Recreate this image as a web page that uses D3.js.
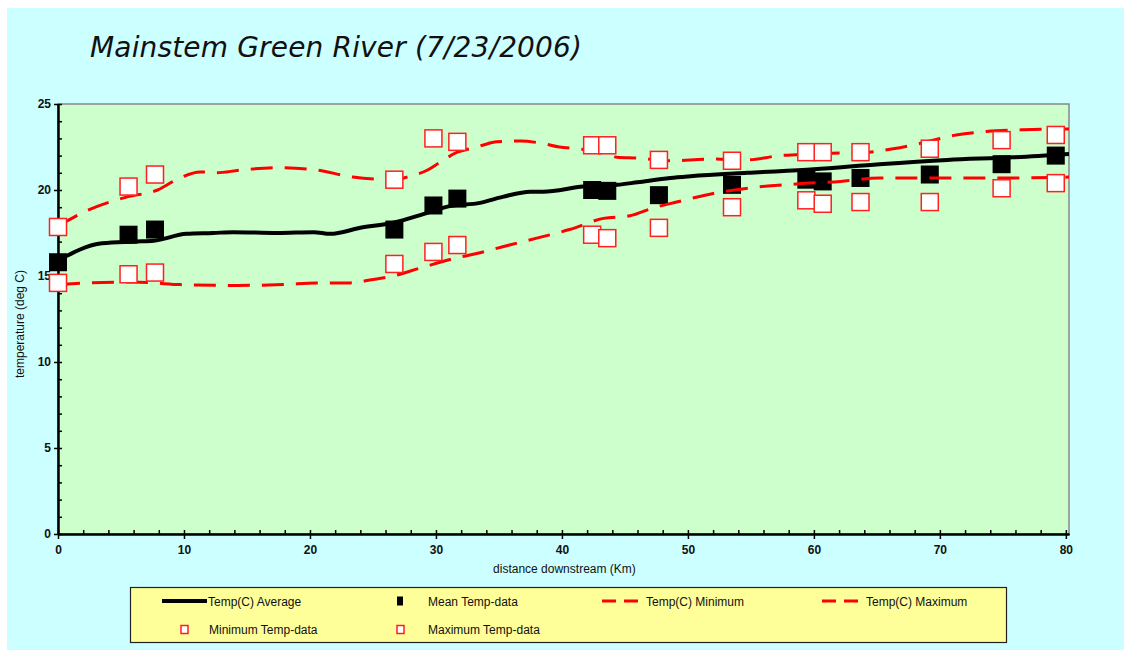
<!DOCTYPE html>
<html>
<head>
<meta charset="UTF-8">
<title>Mainstem Green River</title>
<style>
  body { margin: 0; background: #fff; }
  svg text { font-family: "Liberation Sans Narrow", "Arial Narrow", "Liberation Sans", sans-serif; }
</style>
</head>
<body>
<script src="https://cdn.jsdelivr.net/npm/d3@7"></script>
<script>

// sites: distance downstream (km) and measured temperatures (deg C)
var siteKm = [0, 5.6, 7.7, 26.7, 29.8, 31.7, 42.4, 43.6, 47.7, 53.5, 59.4, 60.7, 63.7, 69.2, 74.9, 79.2];
var meanT  = [15.8, 17.4, 17.7, 17.7, 19.1, 19.5, 20.0, 19.95, 19.7, 20.3, 20.6, 20.5, 20.7, 20.9, 21.5, 22.0];
var minT   = [14.6, 15.1, 15.2, 15.7, 16.4, 16.8, 17.4, 17.2, 17.8, 19.0, 19.4, 19.2, 19.3, 19.3, 20.1, 20.4];
var maxT   = [17.85, 20.2, 20.9, 20.6, 23.0, 22.8, 22.6, 22.6, 21.75, 21.7, 22.2, 22.2, 22.2, 22.4, 22.9, 23.2];

// model curves
var avgKm = [0, 3.5, 6.2, 7.6, 10.2, 12.3, 13.9, 17.4, 20.3, 21.6, 24.0, 26.6, 29, 31, 33.5, 35.3, 37.5, 38.5, 41.7, 44.4, 46, 48.6, 50.2, 54.7, 60, 65.2, 70.6, 75.8, 80.25];
var avgT  = [15.9, 16.9, 17.0, 17.05, 17.45, 17.5, 17.55, 17.5, 17.55, 17.45, 17.8, 18.1, 18.6, 19.05, 19.25, 19.6, 19.9, 19.9, 20.2, 20.3, 20.45, 20.7, 20.8, 21.0, 21.2, 21.5, 21.75, 21.9, 22.1];

var minKm = [0, 2.5, 6, 7.5, 9.7, 13.9, 17.9, 20.5, 23.2, 25, 26.3, 28.7, 31.3, 33.5, 35.3, 38, 40.6, 43.3, 45.4, 47.2, 49.1, 52, 55.9, 58.6, 62.1, 65.2, 70.6, 75.8, 80.25];
var minLineT = [14.5, 14.6, 14.65, 14.6, 14.5, 14.45, 14.5, 14.6, 14.6, 14.8, 14.95, 15.45, 16.0, 16.35, 16.7, 17.2, 17.7, 18.35, 18.5, 18.95, 19.3, 19.8, 20.2, 20.35, 20.5, 20.7, 20.7, 20.7, 20.75];

var maxKm = [0, 2.3, 5.5, 7.9, 9.4, 11.3, 12.6, 14.4, 17.4, 20.6, 23.4, 26.6, 27.7, 29.3, 30.3, 31.7, 32.7, 33.7, 34.8, 36.7, 38.5, 39.8, 41.2, 43.3, 44.4, 46.0, 48.6, 51.7, 54.7, 57.3, 58.6, 62.1, 64.4, 66.3, 68.4, 71.3, 73.7, 76.6, 80.25];
var maxLineT = [17.9, 18.8, 19.6, 20.0, 20.6, 21.05, 21.0, 21.15, 21.3, 21.15, 20.75, 20.6, 20.75, 21.15, 21.6, 22.2, 22.4, 22.6, 22.8, 22.85, 22.7, 22.5, 22.4, 22.2, 21.9, 21.85, 21.7, 21.8, 21.75, 22.0, 22.05, 22.15, 22.2, 22.4, 22.7, 23.2, 23.4, 23.5, 23.55];

var xTicks = [0, 10, 20, 30, 40, 50, 60, 70, 80];
var yTicks = [0, 5, 10, 15, 20, 25];

var W = 1124, H = 650;

var svg = d3.select('body').append('svg')
    .attr('width', W)
    .attr('height', H);

// background
svg.append('rect').attr('x', 7).attr('y', 8).attr('width', W - 7).attr('height', H - 8).attr('fill', '#ccffff');

svg.append('text')
    .attr('x', 90).attr('y', 57)
    .style('font-family', '"DejaVu Sans", Verdana, sans-serif')
    .style('font-style', 'italic')
    .style('font-size', '28px')
    .attr('textLength', 492)
    .attr('fill', '#111')
    .text('Mainstem Green River (7/23/2006)');

var x = d3.scaleLinear().domain([0, 80.25]).range([58, 1069]);
var y = d3.scaleLinear().domain([0, 25]).range([534, 104]);

// plot area
svg.append('rect')
    .attr('x', x(0)).attr('y', y(25))
    .attr('width', x(80.25) - x(0)).attr('height', y(0) - y(25))
    .attr('fill', '#ccffcc')
    .attr('stroke', '#888')
    .attr('stroke-width', 1.5);

// y axis
svg.append('g').attr('transform', 'translate(' + x(0) + ',0)')
    .call(d3.axisLeft(y).tickValues(yTicks).tickSize(4).tickSizeOuter(0));
svg.append('g').attr('transform', 'translate(' + x(0) + ',0)')
    .call(d3.axisRight(y).tickValues(d3.range(0, 26, 1)).tickSize(4).tickSizeOuter(0).tickFormat(''));

// x axis
svg.append('g').attr('transform', 'translate(0,' + y(0) + ')')
    .call(d3.axisBottom(x).tickValues(xTicks).tickSize(5).tickSizeOuter(0).tickPadding(6));
svg.append('g').attr('transform', 'translate(0,' + y(0) + ')')
    .call(d3.axisTop(x).tickValues(d3.range(0, 81, 2)).tickSize(4).tickSizeOuter(0).tickFormat(''));

svg.selectAll('.domain').attr('stroke', '#000').attr('stroke-width', 2);
svg.selectAll('.tick line').attr('stroke', '#000').attr('stroke-width', 1.5);
svg.selectAll('.tick text').attr('fill', '#111').style('font-size', '12px').style('font-weight', 'bold');

svg.append('text')
    .attr('transform', 'translate(24,' + (y(12.5) + 5) + ') rotate(-90)')
    .attr('text-anchor', 'middle')
    .style('font-size', '12px')
    .attr('fill', '#111')
    .text('temperature (deg C)');

svg.append('text')
    .attr('x', x(40.2)).attr('y', 573)
    .attr('text-anchor', 'middle')
    .style('font-size', '12px')
    .attr('fill', '#111')
    .text('distance downstream (Km)');

function pts(ks, vs) {
    return ks.map(function(k, i) { return [k, vs[i]]; });
}

var line = d3.line()
    .x(function(d) { return x(d[0]); })
    .y(function(d) { return y(d[1]); })
    .curve(d3.curveMonotoneX);

svg.append('path').attr('d', line(pts(avgKm, avgT)))
    .attr('fill', 'none').attr('stroke', '#000').attr('stroke-width', 4);

svg.selectAll('rect.mean')
    .data(pts(siteKm, meanT))
    .enter().append('rect')
    .attr('class', 'mean')
    .attr('x', function(d) { return x(d[0]) - 9; })
    .attr('y', function(d) { return y(d[1]) - 9; })
    .attr('width', 18).attr('height', 18)
    .attr('fill', '#000');

svg.append('path').attr('d', line(pts(minKm, minLineT)))
    .attr('fill', 'none').attr('stroke', '#ff0000').attr('stroke-width', 3)
    .attr('stroke-dasharray', '22,12');
svg.append('path').attr('d', line(pts(maxKm, maxLineT)))
    .attr('fill', 'none').attr('stroke', '#ff0000').attr('stroke-width', 3)
    .attr('stroke-dasharray', '22,12');

[minT, maxT].forEach(function(vals) {
    svg.append('g').selectAll('rect')
        .data(pts(siteKm, vals))
        .enter().append('rect')
        .attr('x', function(d) { return x(d[0]) - 8.5; })
        .attr('y', function(d) { return y(d[1]) - 8.5; })
        .attr('width', 17).attr('height', 17)
        .attr('fill', '#fff')
        .attr('stroke', '#ff2020')
        .attr('stroke-width', 1.5);
});

// legend
var lg = svg.append('g');
lg.append('rect').attr('x', 130.5).attr('y', 587.5).attr('width', 876).attr('height', 55)
    .attr('fill', '#ffff99').attr('stroke', '#222').attr('stroke-width', 1.2);

var items = [
    {t: 'Temp(C) Average', kind: 'line', x1: 162, x2: 207, tx: 208, y: 601},
    {t: 'Mean Temp-data', kind: 'fill', x1: 400, tx: 428, y: 601},
    {t: 'Temp(C) Minimum', kind: 'dash', x1: 602, x2: 645, tx: 646, y: 601},
    {t: 'Temp(C) Maximum', kind: 'dash', x1: 822, x2: 865, tx: 866, y: 601},
    {t: 'Minimum Temp-data', kind: 'open', x1: 184, tx: 209, y: 629},
    {t: 'Maximum Temp-data', kind: 'open', x1: 400, tx: 428, y: 629}
];
items.forEach(function(d) {
    if (d.kind === 'line') {
        lg.append('line').attr('x1', d.x1).attr('x2', d.x2).attr('y1', d.y).attr('y2', d.y)
            .attr('stroke', '#000').attr('stroke-width', 4);
    } else if (d.kind === 'dash') {
        lg.append('line').attr('x1', d.x1).attr('x2', d.x2).attr('y1', d.y).attr('y2', d.y)
            .attr('stroke', '#ff0000').attr('stroke-width', 3).attr('stroke-dasharray', '14,8');
    } else if (d.kind === 'fill') {
        lg.append('rect').attr('x', d.x1 - 3).attr('y', d.y - 4.5).attr('width', 6).attr('height', 9).attr('fill', '#000');
    } else {
        lg.append('rect').attr('x', d.x1 - 3).attr('y', d.y - 3.5).attr('width', 7).attr('height', 8)
            .attr('fill', '#fff').attr('stroke', '#ff2020').attr('stroke-width', 1.5);
    }
    lg.append('text').attr('x', d.tx).attr('y', d.y + 4.5)
        .style('font-size', '12px').attr('fill', '#111').text(d.t);
});

</script>
</body>
</html>
